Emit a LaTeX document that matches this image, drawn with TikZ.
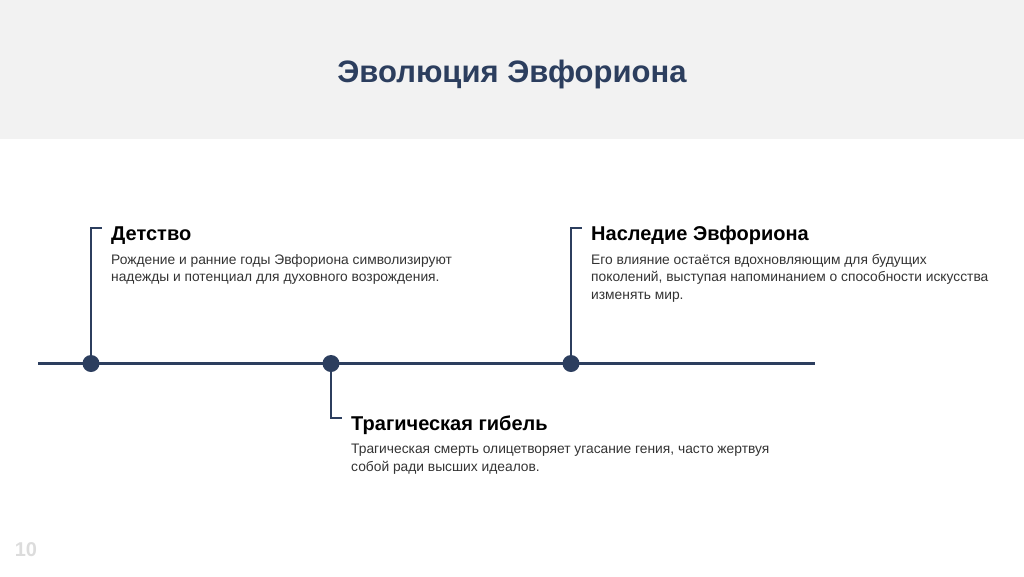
\documentclass[tikz,border=0pt]{standalone}
\usepackage{fontspec}
\setmainfont{Liberation Sans}
\usetikzlibrary{positioning}
\definecolor{navy}{HTML}{2C3E5E}
\definecolor{band}{HTML}{F2F2F2}
\definecolor{bodygray}{HTML}{333333}
\definecolor{pagegray}{HTML}{DCDCDC}
\tikzset{
	dot/.style={circle,fill=navy,minimum size=17pt,inner sep=0pt},
	stem/.style={draw=navy,line width=2pt},
	heading/.style={anchor=base west,inner sep=0pt,font=\fontsize{20}{23}\selectfont\bfseries,text=black},
	body/.style={anchor=north west,inner sep=0pt,align=left,font=\fontsize{13.8}{17.5}\selectfont,text=bodygray}
}
\begin{document}
\begin{tikzpicture}[x=1pt,y=-1pt]
	\useasboundingbox (0,0) rectangle (1024,576);
	\fill[band] (0,0) rectangle (1024,139);
	\node[font=\fontsize{31}{34}\selectfont\bfseries,text=navy] (title) at (512,74) {Эволюция Эвфориона};
	% timeline
	\coordinate (tlstart) at (38,363.5);
	\coordinate (tlend) at (815,363.5);
	\draw[navy,line width=3pt] (tlstart) -- (tlend);
	\node[dot] (dot1) at (91,363.5){};
	\node[dot] (dot2) at (331,363.5){};
	\node[dot] (dot3) at (571,363.5){};
	\coordinate (tick1) at (102,228);
	\coordinate (tick2) at (342,418);
	\coordinate (tick3) at (582,228);
	\draw[stem] (dot1.center) |- (tick1);
	\draw[stem] (dot2.center) |- (tick2);
	\draw[stem] (dot3.center) |- (tick3);
	% labels
	\node[heading] (h1) at (111,240) {Детство};
	\node[body,below=14pt of h1.base west,anchor=north west] (b1) {Рождение и ранние годы Эвфориона символизируют\\надежды и потенциал для духовного возрождения.};
	\node[heading] (h2) at (351,430) {Трагическая гибель};
	\node[body,below=14pt of h2.base west,anchor=north west] (b2) {Трагическая смерть олицетворяет угасание гения, часто жертвуя\\собой ради высших идеалов.};
	\node[heading] (h3) at (591,240) {Наследие Эвфориона};
	\node[body,below=14pt of h3.base west,anchor=north west] (b3) {Его влияние остаётся вдохновляющим для будущих\\поколений, выступая напоминанием о способности искусства\\изменять мир.};
	\node[font=\fontsize{20}{22}\selectfont\bfseries,text=pagegray] (page) at (26,550) {10};
\end{tikzpicture}
\end{document}
